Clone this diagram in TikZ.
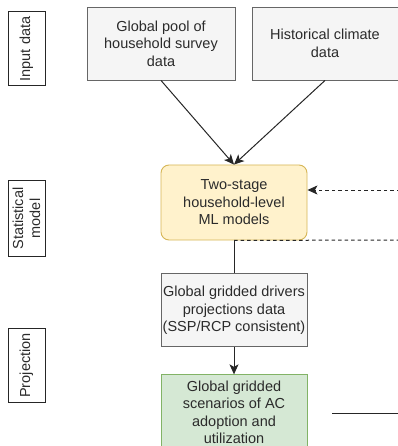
\documentclass[tikz,border=0pt]{standalone}
\usepackage{fontspec}
\setmainfont{Liberation Sans}
\usetikzlibrary{positioning,arrows.meta}
\definecolor{greyfill}{HTML}{F5F5F5}
\definecolor{greyline}{HTML}{666666}
\definecolor{mlfill}{HTML}{FFF2CC}
\definecolor{mlline}{HTML}{D6B656}
\definecolor{projfill}{HTML}{D5E8D4}
\definecolor{projline}{HTML}{82B366}
\definecolor{txtgrey}{HTML}{2B2B2B}

\begin{document}
\begin{tikzpicture}[x=1pt, y=-1pt,
    box/.style={draw=greyline, fill=greyfill, align=center, inner sep=0pt,
                minimum width=146pt, minimum height=73pt, line width=0.9pt,
                text=txtgrey, font=\fontsize{14.5}{17.5}\selectfont},
    model/.style={box, draw=mlline, fill=mlfill, rounded corners=8pt,
                  minimum height=75pt},
    result/.style={box, draw=projline, fill=projfill, minimum height=75pt},
    stage/.style={draw=black!85, line width=1pt, rotate=90, align=center,
                  inner sep=0pt, minimum width=74pt, minimum height=37pt,
                  text=txtgrey, font=\fontsize{14.5}{17}\selectfont},
    arr/.style={-{Stealth[length=10pt, width=9pt, inset=2.5pt]}, line width=1pt, black!85},
    dashline/.style={line width=1pt, black!85, dash pattern=on 3.5pt off 3pt},
]
\useasboundingbox (0,0) rectangle (397,446);

% --- STAGE LABELS ---
\node[stage] (lin) at (26.5, 49) {Input data};
\node[stage, minimum width=75pt] (lstat) at (26.5, 218.5) {Statistical\\model};
\node[stage] (lproj) at (26.5, 365.5) {Projection};

% --- NODES ---
\node[box, minimum width=148pt] (pool) at (161, 43.5)
    {Global pool of\\household survey\\data};
\node[box] (clim) at (325, 43.5) {Historical climate\\data};

\node[model] (ml) at (234, 202.5) {Two-stage\\household-level\\ML models};

\node[box, below=33pt of ml] (drv)
    {Global gridded drivers\\projections data\\(SSP/RCP consistent)};

\node[result, below=27pt of drv] (scen)
    {Global gridded\\scenarios of AC\\adoption and\\utilization};

% free ends at the right edge
\coordinate (fbin) at (400, 190);
\coordinate (fbout) at (400, 240);
\coordinate (outa) at (332, 413);
\coordinate (outb) at (400, 413);

% --- ARROWS ---
\draw[arr] (pool.south) -- (ml.north);
\draw[arr] (clim.south) -- (ml.north);

\draw[arr, dashline] (fbin) -- (fbin -| ml.east);
\draw[dashline] (ml.south) -- (fbout);

\draw[line width=1pt, black!85] (ml.south) -- (drv.north);
\draw[arr] (drv.south) -- (scen.north);

\draw[line width=1pt, black!85] (outa) -- (outb);

\end{tikzpicture}
\end{document}
